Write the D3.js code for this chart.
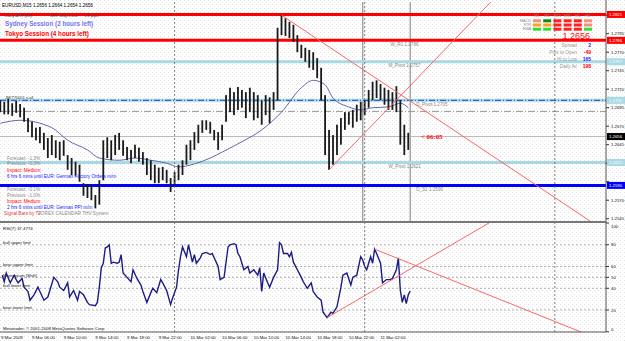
<!DOCTYPE html>
<html>
<head>
<meta charset="utf-8">
<script src="https://cdn.jsdelivr.net/npm/d3@7"></script>
<style>
body { margin: 0; background: #fff; }
svg { display: block; font-family: "Liberation Sans", Arial, sans-serif; }
</style>
</head>
<body>
<div id="chart"></div>
<script>
// EURUSD M15 (one entry per 30 minutes from 9 Mar 2009 02:00)
const barHigh = [
  1.2705, 1.2703, 1.2707, 1.2701, 1.2704, 1.2700, 1.2695, 1.2681, 1.2676, 1.2668,
  1.2669, 1.2661, 1.2654, 1.2658, 1.2651, 1.2649, 1.2651, 1.2631, 1.2627, 1.2622,
  1.2618, 1.2593, 1.2592, 1.2591, 1.2577, 1.2597, 1.2651, 1.2655, 1.2651, 1.2658,
  1.2661, 1.2651, 1.2642, 1.2638, 1.2645, 1.2641, 1.2635, 1.2627, 1.2624, 1.2618,
  1.2614, 1.2615, 1.2611, 1.2600, 1.2608, 1.2618, 1.2624, 1.2645, 1.2651, 1.2662,
  1.2672, 1.2678, 1.2678, 1.2676, 1.2665, 1.2662, 1.2672, 1.2712, 1.2722, 1.2716,
  1.2723, 1.2719, 1.2716, 1.2722, 1.2716, 1.2712, 1.2705, 1.2712, 1.2709, 1.2716,
  1.2803, 1.2820, 1.2816, 1.2811, 1.2807, 1.2793, 1.2780, 1.2776, 1.2773, 1.2770,
  1.2762, 1.2749, 1.2712, 1.2665, 1.2658, 1.2672, 1.2681, 1.2689, 1.2689, 1.2692,
  1.2699, 1.2703, 1.2705, 1.2719, 1.2730, 1.2732, 1.2727, 1.2722, 1.2719, 1.2716,
  1.2724, 1.2705, 1.2672, 1.2661
];
const barLow = [
  1.2689, 1.2686, 1.2686, 1.2684, 1.2688, 1.2682, 1.2676, 1.2662, 1.2655, 1.2651,
  1.2647, 1.2638, 1.2627, 1.2631, 1.2627, 1.2624, 1.2630, 1.2611, 1.2604, 1.2603,
  1.2595, 1.2576, 1.2573, 1.2570, 1.2559, 1.2564, 1.2597, 1.2627, 1.2624, 1.2631,
  1.2638, 1.2630, 1.2624, 1.2620, 1.2627, 1.2622, 1.2618, 1.2604, 1.2597, 1.2593,
  1.2593, 1.2597, 1.2593, 1.2581, 1.2591, 1.2597, 1.2604, 1.2618, 1.2624, 1.2638,
  1.2647, 1.2661, 1.2665, 1.2660, 1.2651, 1.2638, 1.2651, 1.2676, 1.2689, 1.2685,
  1.2692, 1.2695, 1.2681, 1.2689, 1.2678, 1.2681, 1.2672, 1.2685, 1.2674, 1.2692,
  1.2705, 1.2793, 1.2792, 1.2789, 1.2784, 1.2770, 1.2762, 1.2757, 1.2749, 1.2746,
  1.2735, 1.2705, 1.2631, 1.2611, 1.2618, 1.2631, 1.2645, 1.2665, 1.2672, 1.2668,
  1.2676, 1.2678, 1.2685, 1.2695, 1.2705, 1.2708, 1.2705, 1.2699, 1.2692, 1.2692,
  1.2689, 1.2645, 1.2631, 1.2638
];

// moving average, index in 30 minute steps
const maBar = [0, 5, 13, 17, 22, 25, 30, 34, 38, 42, 45, 49, 53, 56, 61, 66, 71, 76, 79, 82, 84, 88, 91, 94, 98, 101, 103];
const maVal = [1.2674, 1.2678, 1.2668, 1.2651, 1.2638, 1.2627, 1.2624, 1.2627, 1.2624, 1.2620, 1.2615, 1.2619, 1.2627,
  1.2635, 1.2649, 1.2665, 1.2689, 1.2722, 1.2732, 1.2726, 1.2708, 1.2696, 1.2692, 1.2695, 1.2696, 1.2701, 1.2695];

// RSI(7), index in 15 minute bars
const rsiBar = [1, 2, 3, 5, 7, 8, 9, 11, 12, 14, 15, 17, 19, 20, 22, 24, 25, 27, 29, 30,
  32, 34, 35, 37, 39, 40, 42, 44, 45, 48, 49, 50, 51, 52, 53, 54, 55, 56, 57, 59,
  60, 61, 62, 64, 66, 67, 69, 71, 72, 74, 76, 77, 79, 81, 82, 84, 86, 87, 89, 90,
  91, 92, 94, 95, 97, 98, 99, 101, 102, 104, 106, 107,
  110, 111, 113, 115, 116, 118, 119, 120, 121, 123, 125, 126, 128, 130, 131, 132, 133, 135, 136, 138,
  140, 141, 142, 143, 145, 146, 147, 148, 150, 152, 153, 155, 157, 158, 160, 162, 163, 165, 167, 168,
  170, 172, 173, 175, 177, 178, 180, 182, 183, 184, 185, 187, 188, 189, 190, 192, 193, 195, 197, 198,
  200, 201, 202, 203, 204, 205, 206, 207];
const rsiVal = [52, 46, 54, 45, 52, 48, 45, 49, 41, 37, 29, 34, 41, 37, 29, 32, 38, 50, 46, 41,
  38, 45, 32, 38, 29, 37, 34, 27, 25, 24, 27, 41, 59, 63, 77, 78, 80, 63, 64, 63,
  64, 71, 54, 50, 46, 57, 49, 43, 37, 27, 36, 40, 36, 48, 45, 38, 25, 31, 41, 57,
  69, 78, 69, 80, 64, 71, 63, 68, 72, 73, 71, 72,
  60, 48, 50, 78, 80, 81, 80, 72, 69, 57, 60, 54, 57, 52, 59, 37, 54, 45, 41, 50,
  57, 82, 80, 72, 72, 69, 73, 64, 57, 50, 46, 40, 45, 37, 32, 29, 18, 13, 18, 17,
  23, 41, 52, 54, 43, 50, 52, 69, 66, 60, 57, 69, 63, 76, 72, 63, 45, 48, 48, 49,
  57, 68, 38, 27, 34, 26, 34, 37.5];
const rsiTitle = "RSI(7) 37.4774";

const priceTicks = [1.2545, 1.2570, 1.2595, 1.2620, 1.2645, 1.2670, 1.2695, 1.2720, 1.2745, 1.2770, 1.2795, 1.2820];
const rsiTicks = [100, 80, 60, 50, 40, 20, 0];
const rsiLevels = [80, 60, 50, 40, 20];
const rsiLevelNames = ["bull upper limit", "bear upper limit", "Momentum [Shift]", "bull lower limit", "bear lower limit"];

const timeTicks = ["2009-03-09 02:00", "2009-03-09 06:00", "2009-03-09 10:00", "2009-03-09 14:00", "2009-03-09 18:00",
  "2009-03-09 22:00", "2009-03-10 02:00", "2009-03-10 06:00", "2009-03-10 10:00", "2009-03-10 14:00",
  "2009-03-10 18:00", "2009-03-10 22:00", "2009-03-11 02:00"];
const separators = ["2009-03-10 00:00", "2009-03-11 00:00", "2009-03-12 00:00"];
const vlines = ["2009-03-10 23:45", "2009-03-11 05:45"];

// horizontal levels: price, colour, label
const levelPrice = [1.2821, 1.2786, 1.2757, 1.2705, 1.2621, 1.2590];
const levelColor = ["#ff0000", "#ff0000", "#a9d9e4", "#a9d9e4", "#a9d9e4", "#0000ff"];
const levelNames = ["", "W_R1 1.2786", "M_Pivot 1.2757", "D_Pivot 1.2705", "W_Pivot 1.2621", "D_S1 1.2590"];
const levelNameTime = ["", "2009-03-11 03:15", "2009-03-11 03:00", "2009-03-11 06:30", "2009-03-11 03:00", "2009-03-11 06:30"];
const bidPrice = 1.2656;
const pivotDashPrice = 1.2690;

// trendlines: two anchor points each
const trendMain = [
  ["2009-03-10 13:30", 1.2820, "2009-03-11 03:30", 1.2720],
  ["2009-03-10 19:30", 1.2611, "2009-03-11 04:30", 1.2711]
];
const trendRsi = [
  ["2009-03-10 19:15", 13, "2009-03-11 04:30", 52.4],
  ["2009-03-11 01:15", 76, "2009-03-11 04:30", 66.5]
];

const eventLines = ["Forecast: -1.3%", "Previous: -0.3%", "Impact: Medium", "6 hrs 6 mins until EUR: German Factory Orders m/m",
  "Forecast: -0.1%", "Previous: -1.0%", "Impact: Medium", "2 hrs 6 mins until EUR: German PPI m/m"];
const eventColors = ["#8a8a8a", "#8a8a8a", "#ff0000", "#2020ff", "#8a8a8a", "#8a8a8a", "#ff0000", "#2020ff"];
const eventY = [158, 163.5, 170, 176, 189, 195, 201, 207];

const tfNames = ["M1", "M5", "M15", "M30", "H1", "H4"];
const sigRows = ["MACD", "STR", "EMA"];
const sigColors = [
  ["#f4907c", "#108a10", "#ff2020", "#ff2020", "#ff2020", "#f4907c"],
  ["#ffa020", "#ffa020", "#ff2020", "#ff2020", "#ff2020", "#f4907c"],
  ["#30e030", "#30e030", "#ff2020", "#ff2020", "#ff2020", "#30e030"]
];
const infoLabels = ["Spread", "Pips to Open", "Hi to Low", "Daily Av"];
const infoValues = ["2", "-49", "165", "198"];
const infoColors = ["#2020ff", "#ff0000", "#2020ff", "#ff0000"];

const parse = d3.timeParse("%Y-%m-%d %H:%M");
const t0 = parse("2009-03-09 02:00");

const W = 625, H = 341;
const svg = d3.select("#chart").append("svg").attr("width", W).attr("height", H);
const defs = svg.append("defs");

const pat = defs.append("pattern").attr("id", "dots")
  .attr("width", 4).attr("height", 4).attr("patternUnits", "userSpaceOnUse");
pat.append("rect").attr("width", 4).attr("height", 4).attr("fill", "#fff");
pat.append("rect").attr("width", 1).attr("height", 1).attr("fill", "#e2e2e2");
pat.append("rect").attr("x", 2).attr("y", 2).attr("width", 1).attr("height", 1).attr("fill", "#ececec");
svg.append("rect").attr("width", W).attr("height", H).attr("fill", "url(#dots)");

defs.append("clipPath").attr("id", "clipMain").append("rect")
  .attr("x", 0).attr("y", 2).attr("width", 606).attr("height", 220);
defs.append("clipPath").attr("id", "clipRsi").append("rect")
  .attr("x", 0).attr("y", 223).attr("width", 606).attr("height", 109);

const x = d3.scaleTime()
  .domain([parse("2009-03-09 06:00"), parse("2009-03-12 00:00")])
  .range([32, 554.8]);
const y = d3.scaleLinear().domain([1.2545, 1.2795]).range([218.7, 33.7]);
const yr = d3.scaleLinear().domain([0, 100]).range([331.8, 223]);

const main = svg.append("g").attr("clip-path", "url(#clipMain)");
const rsiG = svg.append("g").attr("clip-path", "url(#clipRsi)");

// period separators and vertical lines
separators.forEach(s => {
  svg.append("line").attr("x1", x(parse(s))).attr("x2", x(parse(s)))
    .attr("y1", 2).attr("y2", 332)
    .attr("stroke", "#606060").attr("stroke-width", 0.8).attr("stroke-dasharray", "2,2");
});
vlines.forEach(s => {
  main.append("line").attr("x1", x(parse(s))).attr("x2", x(parse(s)))
    .attr("y1", 0).attr("y2", 222)
    .attr("stroke", "#9a9a9a").attr("stroke-width", 1.3);
});

// horizontal levels
main.append("line").attr("x1", 0).attr("x2", 606).attr("y1", y(pivotDashPrice)).attr("y2", y(pivotDashPrice))
  .attr("stroke", "#999").attr("stroke-width", 1).attr("stroke-dasharray", "7,2,1,2");
main.append("line").attr("x1", 0).attr("x2", 606).attr("y1", y(bidPrice)).attr("y2", y(bidPrice))
  .attr("stroke", "#b8b8b8").attr("stroke-width", 1);
levelPrice.forEach((p, i) => {
  main.append("line").attr("x1", 0).attr("x2", 606).attr("y1", y(p)).attr("y2", y(p))
    .attr("stroke", levelColor[i]).attr("stroke-width", 3);
});
main.append("line").attr("x1", 0).attr("x2", 606).attr("y1", y(1.2705)).attr("y2", y(1.2705))
  .attr("stroke", "#3a64c8").attr("stroke-width", 1.2).attr("stroke-dasharray", "6,2,1,2");

levelNames.forEach((n, i) => {
  if (!n) return;
  main.append("text").attr("x", x(parse(levelNameTime[i]))).attr("y", y(levelPrice[i]) + 4)
    .attr("dominant-baseline", "central").attr("font-size", 4.6).attr("fill", "#8a8a8a").text(n);
});

// moving average
main.append("path")
  .attr("d", d3.line()
    .x((d, i) => x(d3.timeMinute.offset(t0, 30 * maBar[i])))
    .y(d => y(d))
    .curve(d3.curveMonotoneX)(maVal))
  .attr("fill", "none").attr("stroke", "#6666aa").attr("stroke-width", 1);

// price bars: thin wick plus narrow body
main.selectAll(".bar").data(barHigh).enter().append("rect")
  .attr("class", "bar")
  .attr("x", (d, i) => x(d3.timeMinute.offset(t0, 30 * i)) - 0.9)
  .attr("width", 1.8)
  .attr("y", d => y(d))
  .attr("height", (d, i) => Math.max(1, y(barLow[i]) - y(d)))
  .attr("fill", "#1a1a1a");

// trendlines
const endT = parse("2009-03-12 12:00");
function trend(g, tl, ys) {
  const a = parse(tl[0]), b = parse(tl[2]);
  const ext = d3.scaleLinear().domain([+a, +b]).range([tl[1], tl[3]]);
  g.append("line")
    .attr("x1", x(a)).attr("y1", ys(tl[1]))
    .attr("x2", x(endT)).attr("y2", ys(ext(+endT)))
    .attr("stroke", "#f46a6a").attr("stroke-width", 1);
}
trendMain.forEach(tl => trend(main, tl, y));

// right price axis
const axisR = svg.append("g");
axisR.append("line").attr("x1", 606).attr("x2", 606).attr("y1", 0).attr("y2", 332)
  .attr("stroke", "#555").attr("stroke-width", 1);
const boxPrices = levelPrice.concat([bidPrice]);
const boxColors = levelColor.concat(["#000"]);
priceTicks.forEach(p => {
  axisR.append("line").attr("x1", 606).attr("x2", 609).attr("y1", y(p)).attr("y2", y(p)).attr("stroke", "#333");
  // labels covered by a level box are not shown
  if (boxPrices.some(b => Math.abs(y(b) - y(p)) < 5)) return;
  axisR.append("text").attr("x", 611).attr("y", y(p)).attr("dominant-baseline", "central")
    .attr("font-size", 4.3).attr("fill", "#111").text(d3.format(".4f")(p));
});
boxPrices.forEach((p, i) => {
  axisR.append("rect").attr("x", 607).attr("y", y(p) - 3.5).attr("width", 18).attr("height", 7)
    .attr("fill", boxColors[i]);
  axisR.append("text").attr("x", 609).attr("y", y(p)).attr("dominant-baseline", "central")
    .attr("font-size", 4.3).attr("fill", "#fff").text(d3.format(".4f")(p));
});

// panel borders
svg.append("line").attr("x1", 0).attr("x2", 606).attr("y1", 222).attr("y2", 222)
  .attr("stroke", "#777").attr("stroke-width", 2);
svg.append("line").attr("x1", 0).attr("x2", 606).attr("y1", 332).attr("y2", 332)
  .attr("stroke", "#555").attr("stroke-width", 1);

// RSI window
rsiLevels.forEach((v, i) => {
  rsiG.append("line").attr("x1", 0).attr("x2", 606).attr("y1", yr(v)).attr("y2", yr(v))
    .attr("stroke", "#a0a0a0").attr("stroke-width", 0.8).attr("stroke-dasharray", "2,2");
  svg.append("text").attr("x", 3).attr("y", yr(v) - 2.3).attr("dominant-baseline", "central")
    .attr("font-size", 4.3).attr("fill", "#222").text(rsiLevelNames[i]);
});
rsiG.append("path")
  .attr("d", d3.line()
    .x((d, i) => x(d3.timeMinute.offset(t0, 15 * rsiBar[i])))
    .y(d => yr(d))(rsiVal))
  .attr("fill", "none").attr("stroke", "#1c1c84").attr("stroke-width", 1.4);
trendRsi.forEach(tl => trend(rsiG, tl, yr));
rsiTicks.forEach(v => {
  const ty = Math.min(Math.max(yr(v), 226.5), 329);
  svg.append("line").attr("x1", 606).attr("x2", 609).attr("y1", yr(v)).attr("y2", yr(v)).attr("stroke", "#333");
  svg.append("text").attr("x", 611).attr("y", ty).attr("dominant-baseline", "central")
    .attr("font-size", 4.3).attr("fill", "#111").text(v);
});
svg.append("text").attr("x", 3).attr("y", 228).attr("dominant-baseline", "central")
  .attr("font-size", 4.4).attr("fill", "#111").text(rsiTitle);
svg.append("text").attr("x", 3).attr("y", 328).attr("dominant-baseline", "central")
  .attr("font-size", 4.3).attr("fill", "#111").text("Metatrader, \u00a9 2001-2008 MetaQuotes Software Corp.");

// time axis
const fmt = d3.timeFormat("%-d %b %H:%M");
timeTicks.forEach((s, i) => {
  const t = parse(s);
  svg.append("text").attr("x", Math.max(1, x(t))).attr("y", 337.5).attr("dominant-baseline", "central")
    .attr("font-size", 4.3).attr("fill", "#111").text(i === 0 ? "9 Mar 2009" : fmt(t));
});

// texts in main window
svg.append("text").attr("x", 2).attr("y", 5).attr("dominant-baseline", "central")
  .attr("font-size", 4.6).attr("fill", "#000").text("EURUSD,M15  1.2656 1.2664 1.2654 1.2656");
[["Daily ATR (20)", 5], ["Min. Stop Loss", 50], ["25 pips", 85]].forEach(d => {
  svg.append("text").attr("x", d[1]).attr("y", 15).attr("dominant-baseline", "central")
    .attr("font-size", 4.2).attr("fill", "#444").text(d[0]);
});
svg.append("text").attr("x", 5).attr("y", 23.5).attr("dominant-baseline", "central")
  .attr("font-size", 6.3).attr("font-weight", "bold").attr("fill", "#7474ee").text("Sydney Session (2 hours left)");
svg.append("text").attr("x", 5).attr("y", 33.5).attr("dominant-baseline", "central")
  .attr("font-size", 6.3).attr("font-weight", "bold").attr("fill", "#ff0000").text("Tokyo Session (4 hours left)");
svg.append("text").attr("x", 5).attr("y", 97.5).attr("dominant-baseline", "central")
  .attr("font-size", 4).attr("fill", "#333").text("JM/770001 n.all");

eventLines.forEach((s, i) => {
  svg.append("text").attr("x", 7).attr("y", eventY[i]).attr("dominant-baseline", "central")
    .attr("font-size", 4.7).attr("fill", eventColors[i]).text(s);
});
svg.append("text").attr("x", 4).attr("y", 213.3).attr("dominant-baseline", "central")
  .attr("font-size", 4.7).attr("fill", "#e03a3a").text("Signal Bars by TJ");
svg.append("text").attr("x", 38).attr("y", 213.3).attr("dominant-baseline", "central")
  .attr("font-size", 4.7).attr("fill", "#8a8a8a").text("FOREX CALENDAR THV System");

svg.append("text").attr("x", 421).attr("y", y(bidPrice)).attr("dominant-baseline", "central")
  .attr("font-family", "Liberation Serif").attr("font-weight", "bold")
  .attr("font-size", 6.8).attr("fill", "#ff0000").text("<  06:05");

// signal grid top right
tfNames.forEach((n, j) => {
  svg.append("text").attr("x", 537 + j * 10.2).attr("y", 15.5).attr("text-anchor", "middle")
    .attr("dominant-baseline", "central").attr("font-size", 3.8).attr("fill", "#8a8a8a").text(n);
});
sigRows.forEach((r, i) => {
  svg.append("text").attr("x", 531).attr("y", 20.7 + i * 4.2).attr("text-anchor", "end")
    .attr("dominant-baseline", "central").attr("font-size", 3.8).attr("fill", "#8a8a8a").text(r);
  sigColors[i].forEach((c, j) => {
    svg.append("rect").attr("x", 533 + j * 10.2).attr("y", 19.3 + i * 4.2)
      .attr("width", 8).attr("height", 3).attr("fill", c);
  });
});
svg.append("text").attr("x", 590).attr("y", 35.8).attr("text-anchor", "end")
  .attr("dominant-baseline", "central").attr("font-size", 9).attr("fill", "#ff0000").text("1.2656");
infoLabels.forEach((l, i) => {
  svg.append("text").attr("x", 577).attr("y", 45 + i * 7).attr("text-anchor", "end")
    .attr("dominant-baseline", "central").attr("font-size", 4.8).attr("fill", "#9a9a9a").text(l);
  svg.append("text").attr("x", 591).attr("y", 45 + i * 7).attr("text-anchor", "end")
    .attr("dominant-baseline", "central").attr("font-size", 5).attr("font-weight", "bold")
    .attr("fill", infoColors[i]).text(infoValues[i]);
});
</script>
</body>
</html>
